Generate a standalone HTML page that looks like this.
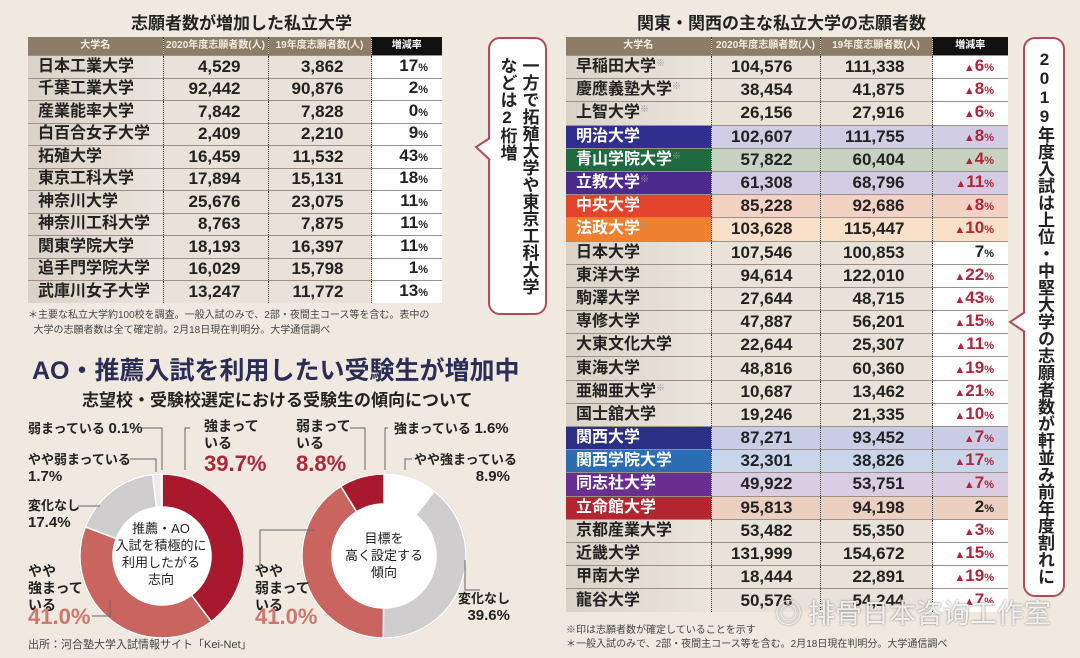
<!DOCTYPE html>
<html><head><meta charset="utf-8">
<style>
*{margin:0;padding:0;box-sizing:border-box}
body{width:1080px;height:658px;overflow:hidden;background:#efe9df;font-family:"Liberation Sans","Noto Sans CJK JP",sans-serif;color:#222;position:relative}
.abs{position:absolute}
.title{font-weight:bold;font-size:17px;white-space:nowrap}
table{border-collapse:collapse;position:absolute;table-layout:fixed}
th{background:#8c7c68;color:#f3ece0;font-size:10px;font-weight:bold;height:18px;line-height:18px;border-left:1px dotted #333;overflow:hidden;white-space:nowrap}
th.rate{background:#111;color:#fff}
td{font-weight:bold;font-size:16px;line-height:16px;border-top:1px solid #9a9288;white-space:nowrap;border-left:1px dotted #333;padding:0;overflow:hidden;vertical-align:middle}
td.name{padding-left:10px;border-left:none}
td.num{text-align:right;padding-right:27px;font-size:17px}
td.rate{background:#fff;text-align:right;padding-right:14px;font-size:17px}
td.rate small{font-size:11px}
td .mk{font-size:9px;color:#999;vertical-align:top;line-height:9px}
.red{color:#b0253a}
.callout{position:absolute;background:#fff;border:2px solid #b24a5a;border-radius:12px;font-weight:bold;writing-mode:vertical-rl;text-orientation:upright;display:flex;align-items:center;justify-content:center}
.lbl{position:absolute;font-weight:bold;font-size:14px;line-height:17px;white-space:nowrap}
.big{font-size:22px;line-height:24px;font-weight:bold}
.note{position:absolute;font-size:10px;color:#444;white-space:nowrap}
</style></head><body>

<div class="abs title" style="left:131px;top:9px">志願者数が増加した私立大学</div>
<div class="abs title" style="left:637px;top:9px">関東・関西の主な私立大学の志願者数</div>

<table id="tL" style="left:28px;top:37px;width:414px">
<colgroup><col style="width:135px"><col style="width:105px"><col style="width:103px"><col style="width:71px"></colgroup>
<thead><tr><th style="border-left:none">大学名</th><th>2020年度志願者数(人)</th><th>19年度志願者数(人)</th><th class="rate">増減率</th></tr></thead>
<tbody></tbody></table>

<table id="tR" style="left:566px;top:37px;width:442px">
<colgroup><col style="width:145px"><col style="width:109px"><col style="width:112px"><col style="width:76px"></colgroup>
<thead><tr><th style="border-left:none">大学名</th><th>2020年度志願者数(人)</th><th>19年度志願者数(人)</th><th class="rate">増減率</th></tr></thead>
<tbody></tbody></table>

<div class="callout" style="left:488px;top:37px;width:59px;height:278px;font-size:17px;line-height:22px">一方で拓殖大学や東京工科大学<br>などは2桁増</div>
<div class="callout" style="left:1023px;top:37px;width:42px;height:560px;font-size:17px;line-height:20px;white-space:nowrap">2019年度入試は上位・中堅大学の志願者数が軒並み前年度割れに</div>
<svg class="abs" style="left:0;top:0" width="1080" height="658">
<polyline points="490,138 476,147 490,160" fill="#fff" stroke="#b24a5a" stroke-width="2"/>
<polyline points="1025,312 1010,322 1025,332" fill="#fff" stroke="#b24a5a" stroke-width="2"/>
</svg>

<div class="note" style="left:28px;top:306px">＊主要な私立大学約100校を調査。一般入試のみで、2部・夜間主コース等を含む。表中の<br>&nbsp;&nbsp;大学の志願者数は全て確定前。2月18日現在判明分。大学通信調べ</div>
<div class="note" style="left:566px;top:624px;line-height:14px">※印は志願者数が確定していることを示す<br>＊一般入試のみで、2部・夜間主コース等を含む。2月18日現在判明分。大学通信調べ</div>

<div class="abs" style="left:32px;top:351px;font-size:25px;font-weight:bold;color:#2b2d57;white-space:nowrap">AO・推薦入試を利用したい受験生が増加中</div>
<div class="abs title" style="left:82px;top:386px;font-size:17px">志望校・受験校選定における受験生の傾向について</div>

<svg id="donuts" class="abs" style="left:0;top:0" width="1080" height="658">
<g stroke="#666" stroke-width="1" fill="none">
<polyline points="142,428 162,428 162,470"/>
<polyline points="130,459 156,459 156,472"/>
<polyline points="78,506 100,506"/>
<polyline points="92,616 110,616 110,600"/>
<polyline points="190,428 185,428 185,470"/>
<polyline points="350,428 365,428 365,470"/>
<polyline points="388,428 385,428 385,470"/>
<polyline points="412,459 405,459 405,470"/>
<polyline points="480,590 465,590 465,560"/>
<polyline points="255,566 260,566 260,530 315,530"/>
</g>
</svg>

<div class="lbl" style="left:28px;top:420px;font-size:13px">弱まっている <b style="font-size:15px">0.1%</b></div>
<div class="lbl" style="left:28px;top:451px;font-size:13px">やや弱まっている<br><span style="font-size:15px">1.7%</span></div>
<div class="lbl" style="left:28px;top:497px;font-size:13px">変化なし<br><span style="font-size:15px">17.4%</span></div>
<div class="lbl" style="left:28px;top:563px">やや<br>強まって<br>いる</div>
<div class="lbl big" style="left:28px;top:605px;color:#cf7670">41.0%</div>
<div class="lbl" style="left:204px;top:418px">強まって<br>いる</div>
<div class="lbl big" style="left:204px;top:452px;color:#b0253a">39.7%</div>
<div class="lbl" style="left:113px;top:520px;width:96px;text-align:center;font-size:13px;font-weight:normal">推薦・AO<br>入試を積極的に<br>利用したがる<br>志向</div>

<div class="lbl" style="left:296px;top:418px">弱まって<br>いる</div>
<div class="lbl big" style="left:296px;top:452px;color:#b0253a">8.8%</div>
<div class="lbl" style="left:394px;top:420px;font-size:13px">強まっている <b style="font-size:15px">1.6%</b></div>
<div class="lbl" style="left:414px;top:451px;font-size:13px;text-align:right;width:96px">やや強まっている<br><span style="font-size:15px">8.9%</span></div>
<div class="lbl" style="left:440px;top:590px;font-size:13px;text-align:right;width:70px">変化なし<br><span style="font-size:15px">39.6%</span></div>
<div class="lbl" style="left:255px;top:563px">やや<br>弱まって<br>いる</div>
<div class="lbl big" style="left:255px;top:605px;color:#cf7670">41.0%</div>
<div class="lbl" style="left:334px;top:530px;width:100px;text-align:center;font-size:13px;font-weight:normal">目標を<br>高く設定する<br>傾向</div>

<div class="note" style="left:28px;top:636px;font-size:11px">出所：河合塾大学入試情報サイト「Kei-Net」</div>
<div class="abs" style="left:775px;top:592px;font-size:27px;color:rgba(255,255,255,0.85);text-shadow:0 0 2px #777;white-space:nowrap;font-family:'Noto Sans CJK SC',sans-serif">◎ 排骨日本咨询工作室</div>

<script>
// Left table data
const lNames=["日本工業大学","千葉工業大学","産業能率大学","白百合女子大学","拓殖大学","東京工科大学","神奈川大学","神奈川工科大学","関東学院大学","追手門学院大学","武庫川女子大学"];
const l2020=["4,529","92,442","7,842","2,409","16,459","17,894","25,676","8,763","18,193","16,029","13,247"];
const l2019=["3,862","90,876","7,828","2,210","11,532","15,131","23,075","7,875","16,397","15,798","11,772"];
const lRate=["17","2","0","9","43","18","11","11","11","1","13"];
// Right table data
const rNames=["早稲田大学","慶應義塾大学","上智大学","明治大学","青山学院大学","立教大学","中央大学","法政大学","日本大学","東洋大学","駒澤大学","専修大学","大東文化大学","東海大学","亜細亜大学","国士舘大学","関西大学","関西学院大学","同志社大学","立命館大学","京都産業大学","近畿大学","甲南大学","龍谷大学"];
const rMark=[1,1,1,0,1,1,0,1,0,0,0,0,0,0,1,0,0,0,0,0,0,0,0,0];
const r2020=["104,576","38,454","26,156","102,607","57,822","61,308","85,228","103,628","107,546","94,614","27,644","47,887","22,644","48,816","10,687","19,246","87,271","32,301","49,922","95,813","53,482","131,999","18,444","50,576"];
const r2019=["111,338","41,875","27,916","111,755","60,404","68,796","92,686","115,447","100,853","122,010","48,715","56,201","25,307","60,360","13,462","21,335","93,452","38,826","53,751","94,198","55,350","154,672","22,891","54,244"];
const rRate=["▲6","▲8","▲6","▲8","▲4","▲11","▲8","▲10","7","▲22","▲43","▲15","▲11","▲19","▲21","▲10","▲7","▲17","▲7","2","▲3","▲15","▲19","▲7"];
const rColor=[null,null,null,"#2f2f8f","#1f6a3f","#4a2a8a","#e2452c","#ee8030",null,null,null,null,null,null,null,null,"#2b2f86","#2b6cb3","#6a2d90","#b3262f",null,null,null,null];
const rTint=[null,null,null,"#d0cde4","#c6d3c3","#d3cce2","#f3d2c3","#f7dfc8",null,null,null,null,null,null,null,null,"#cbcce5","#c9d6ea","#d9cde3","#ebd0c1",null,null,null,null];

// Donut data
const leftLabels=["強まっている","やや強まっている","変化なし","やや弱まっている","弱まっている"];
const leftValues=[39.7,41.0,17.4,1.7,0.1];
const leftColors=["#a8192e","#c9645f","#cfcdcd","#ebe9e9","#ffffff"];
const rightLabels=["強まっている","やや強まっている","変化なし","やや弱まっている","弱まっている"];
const rightValues=[1.6,8.9,39.6,41.0,8.8];
const rightColors=["#fafafa","#ffffff","#cfcdcd","#c9645f","#a8192e"];

function fillTable(id,names,a,b,rates,rowH,opts){
  const tb=document.querySelector('#'+id+' tbody');
  names.forEach((n,i)=>{
    const tr=document.createElement('tr');
    
    
    tr.style.height=rowH+'px';
    const c=opts&&opts.color[i], t=opts&&opts.tint[i];
    const bg=t||'linear-gradient(90deg,#d9d2c6,#ebe6dd)';
    const mark=opts&&opts.mark[i]?'<span class="mk">※</span>':'';
    const neg=rates[i].startsWith('▲');
    const hs='height:'+rowH+'px;';
    tr.innerHTML='<td class="name" style="'+hs+'background:'+(c||bg)+';color:'+(c?'#fff':'#222')+'">'+n+mark+'</td>'+
      '<td class="num" style="'+hs+'background:'+(t||'#e8e2d8')+'">'+a[i]+'</td>'+
      '<td class="num" style="'+hs+'background:'+(t||'#e8e2d8')+'">'+b[i]+'</td>'+
      '<td class="rate'+(neg?' red':'')+'" style="'+hs+(t?'background:'+t:'')+'">'+(neg?'<small>▲</small>'+rates[i].slice(1):rates[i])+'<small>%</small></td>';
    tb.appendChild(tr);
  });
}
fillTable('tL',lNames,l2020,l2019,lRate,22.5,null);
fillTable('tR',rNames,r2020,r2019,rRate,23.2,{color:rColor,tint:rTint,mark:rMark});

const svg=document.getElementById('donuts');
const NS='http://www.w3.org/2000/svg';
function donut(cx,cy,R,r,values,colors,name){
  const total=values.reduce((s,v)=>s+v,0);
  let a0=-Math.PI/2;
  const bg=document.createElementNS(NS,'circle');
  bg.setAttribute('cx',cx);bg.setAttribute('cy',cy);bg.setAttribute('r',R+1);
  bg.setAttribute('fill','#bbb');
  svg.insertBefore(bg,svg.firstChild);
  values.forEach((v,i)=>{
    const a1=a0+v/total*2*Math.PI;
    const large=(a1-a0)>Math.PI?1:0;
    const p=(rad,a)=>[cx+rad*Math.cos(a),cy+rad*Math.sin(a)];
    const [x0,y0]=p(R,a0),[x1,y1]=p(R,a1),[x2,y2]=p(r,a1),[x3,y3]=p(r,a0);
    const path=document.createElementNS(NS,'path');
    path.setAttribute('d',`M${x0},${y0}A${R},${R} 0 ${large} 1 ${x1},${y1}L${x2},${y2}A${r},${r} 0 ${large} 0 ${x3},${y3}Z`);
    path.setAttribute('fill',colors[i]);
    path.setAttribute('stroke','#fff');
    path.setAttribute('stroke-width','1.5');
    
    
    svg.appendChild(path);
    a0=a1;
  });
  const c=document.createElementNS(NS,'circle');
  c.setAttribute('cx',cx);c.setAttribute('cy',cy);c.setAttribute('r',r);c.setAttribute('fill','#fff');
  svg.appendChild(c);
}
donut(162,556,82,49,leftValues,leftColors,'left-donut');
donut(384,556,82,52,rightValues,rightColors,'right-donut');
svg.appendChild(svg.querySelector('g'));
</script>
</body></html>
